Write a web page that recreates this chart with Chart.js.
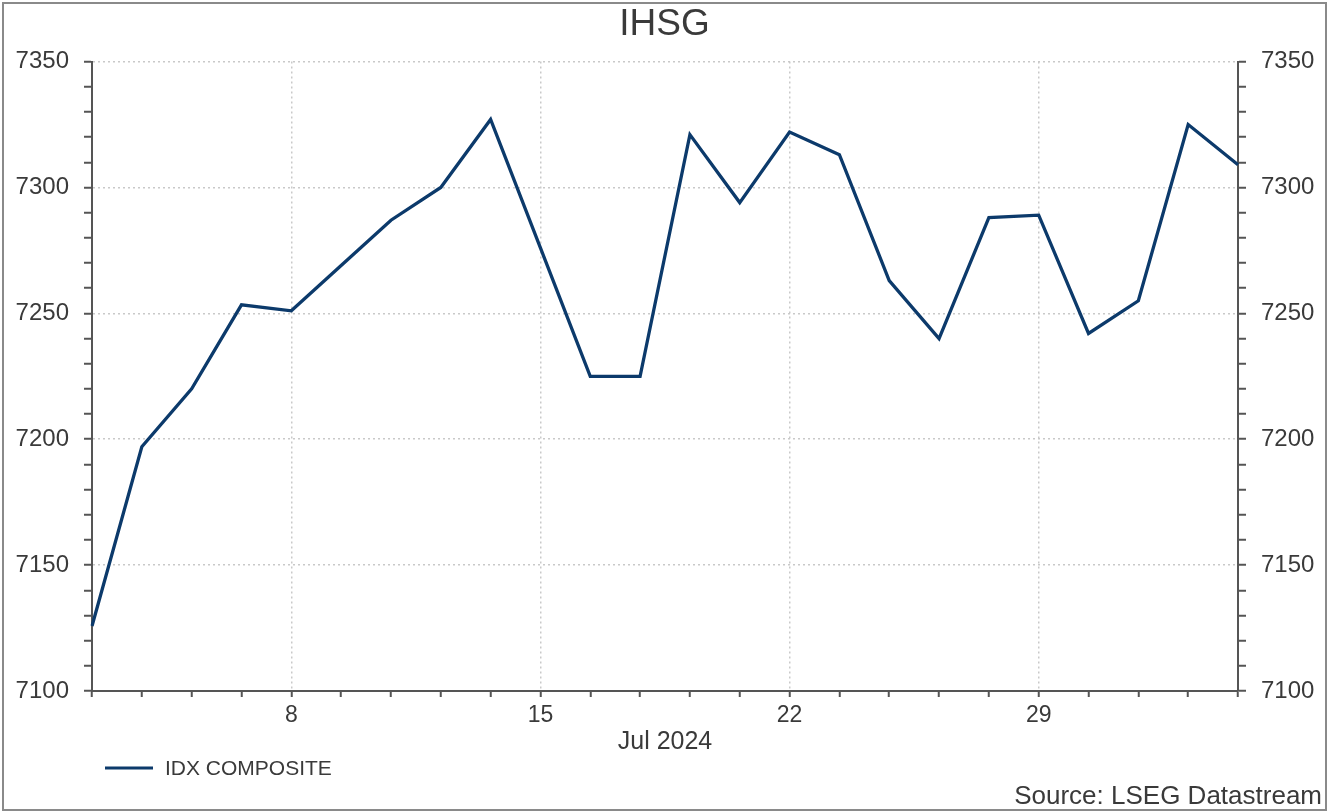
<!DOCTYPE html>
<html>
<head>
<meta charset="utf-8">
<title>IHSG</title>
<script src="https://cdn.jsdelivr.net/npm/chart.js@4.4.1/dist/chart.umd.min.js"></script>
<style>
  html, body { margin: 0; padding: 0; background: #fff; }
  #wrap { width: 1329px; height: 812px; }
</style>
</head>
<body>
<div id="wrap"><canvas id="ihsgChart" width="1329" height="812"></canvas></div>
<script>
// trading days, Jul 2 - Aug 2 2024
const dates = [
  "Jul 2", "Jul 3", "Jul 4", "Jul 5",
  "Jul 8", "Jul 9", "Jul 10", "Jul 11", "Jul 12",
  "Jul 15", "Jul 16", "Jul 17", "Jul 18", "Jul 19",
  "Jul 22", "Jul 23", "Jul 24", "Jul 25", "Jul 26",
  "Jul 29", "Jul 30", "Jul 31", "Aug 1", "Aug 2"
];
const idxComposite = [
  7125.8, 7197, 7220, 7253.4,
  7251, 7269, 7287, 7300, 7327,
  7276, 7225, 7225, 7321, 7294,
  7322, 7313, 7263, 7240, 7288,
  7289, 7242, 7255, 7325, 7309
];
const xTickDates = ["Jul 8", "Jul 15", "Jul 22", "Jul 29"];
const xTickText = ["8", "15", "22", "29"];
const yTickLabels = [7100, 7150, 7200, 7250, 7300, 7350];

const navy = "#0c3a6b";
const textCol = "#3a3a3a";
const axisCol = "#555555";
const gridCol = "#c9c9c9";

Chart.defaults.font.family = "'Liberation Sans', Arial, sans-serif";
Chart.defaults.color = textCol;

const yAxis = (position) => ({
  position: position,
  min: 7100,
  max: 7350,
  afterFit: (scale) => { scale.width = position === "left" ? 92 : 91; },
  ticks: {
    stepSize: 10,
    autoSkip: false,
    padding: 15,
    font: { size: 24 },
    color: textCol,
    callback: (v) => (yTickLabels.includes(v) ? String(v) : ""),
  },
  grid: {
    drawOnChartArea: position === "left",
    color: (c) => (c.tick && yTickLabels.includes(c.tick.value) ? gridCol : "rgba(0,0,0,0)"),
    lineWidth: 1.5,
    tickLength: 8,
    tickColor: axisCol,
    tickWidth: 2,
  },
  border: { display: true, color: axisCol, width: 2, dash: [2, 3] },
});

// frame, legend entry and source note
const extras = {
  id: "extras",
  afterDraw(chart) {
    const ctx = chart.ctx;
    ctx.save();
    ctx.strokeStyle = "#8a8a8a";
    ctx.lineWidth = 2;
    ctx.strokeRect(3, 3, chart.width - 6, chart.height - 5);

    const ly = chart.height - 44;
    ctx.strokeStyle = navy;
    ctx.lineWidth = 3;
    ctx.beginPath();
    ctx.moveTo(105, ly);
    ctx.lineTo(153, ly);
    ctx.stroke();
    ctx.fillStyle = textCol;
    ctx.font = "21px 'Liberation Sans', Arial, sans-serif";
    ctx.textBaseline = "middle";
    ctx.textAlign = "left";
    ctx.fillText(chart.data.datasets[0].label, 165, ly + 1);

    ctx.font = "26px 'Liberation Sans', Arial, sans-serif";
    ctx.textAlign = "right";
    ctx.fillText("Source: LSEG Datastream", chart.width - 7, chart.height - 15);
    ctx.restore();
  },
};

new Chart(document.getElementById("ihsgChart"), {
  type: "line",
  data: {
    labels: dates,
    datasets: [
      {
        label: "IDX COMPOSITE",
        data: idxComposite,
        borderColor: navy,
        backgroundColor: navy,
        borderWidth: 3.3,
        pointRadius: 0,
        tension: 0,
        yAxisID: "y",
      },
    ],
  },
  options: {
    responsive: false,
    animation: false,
    layout: { padding: { top: 0, bottom: 55, left: 0, right: 0 } },
    plugins: {
      legend: { display: false },
      tooltip: { enabled: false },
      title: {
        display: true,
        text: "IHSG",
        color: textCol,
        font: { size: 37, weight: "normal" },
        padding: { top: 3, bottom: 14.2 },
      },
    },
    scales: {
      x: {
        offset: false,
        afterFit: (scale) => { scale.height = 66; },
        ticks: {
          autoSkip: false,
          maxRotation: 0,
          padding: 5,
          font: { size: 23 },
          color: textCol,
          callback: (v, i) => {
            const k = xTickDates.indexOf(dates[i]);
            return k >= 0 ? xTickText[k] : "";
          },
        },
        grid: {
          offset: false,
          color: (c) => (c.tick && xTickDates.includes(dates[c.index]) ? gridCol : "rgba(0,0,0,0)"),
          lineWidth: 1.5,
          tickLength: 6,
          tickColor: axisCol,
          tickWidth: 2,
        },
        border: { display: true, color: axisCol, width: 2, dash: [2, 3] },
        title: {
          display: true,
          text: "Jul 2024",
          color: textCol,
          font: { size: 25 },
          padding: { top: 3, bottom: 0 },
        },
      },
      y: yAxis("left"),
      y2: yAxis("right"),
    },
  },
  plugins: [extras],
});
</script>
</body>
</html>
